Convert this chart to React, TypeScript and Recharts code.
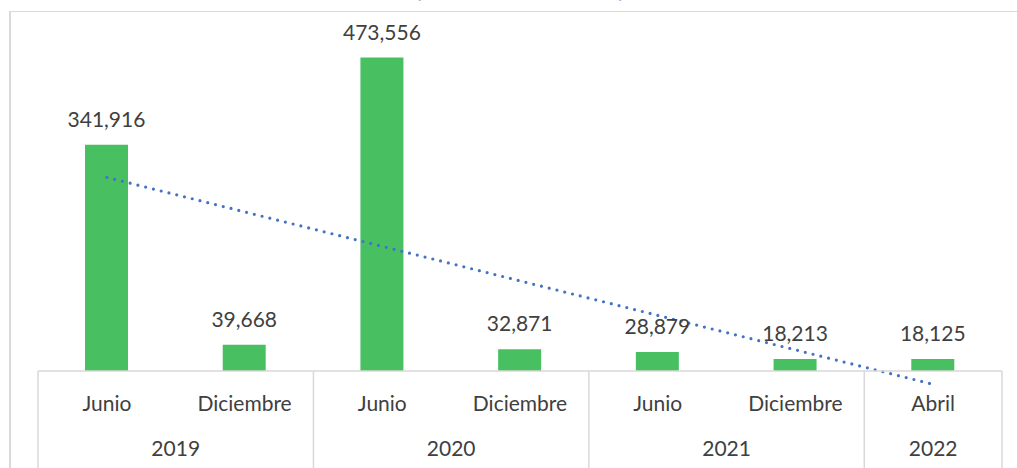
import React from "react";
import {
  ComposedChart,
  Bar,
  XAxis,
  YAxis,
  LabelList,
  ReferenceLine,
} from "recharts";

const months = ["Junio", "Diciembre", "Junio", "Diciembre", "Junio", "Diciembre", "Abril"];
const years = ["2019", "2019", "2020", "2020", "2021", "2021", "2022"];
const values = [341916, 39668, 473556, 32871, 28879, 18213, 18125];

const WIDTH = 1017;
const HEIGHT = 480;
const MARGIN = { top: 40, right: 15, bottom: 0, left: 38 };
const GRID = "#D9D9D9";
const TEXT = "#404040";

const data = values.map((v, i) => ({
  key: `${months[i]} ${years[i]}`,
  month: months[i],
  year: years[i],
  value: v,
}));

// linear trend (least squares) over the category index, like Excel's trendline
const n = values.length;
const xMean = (n + 1) / 2;
const yMean = values.reduce((a, b) => a + b, 0) / n;
let sxy = 0;
let sxx = 0;
values.forEach((v, i) => {
  sxy += (i + 1 - xMean) * (v - yMean);
  sxx += (i + 1 - xMean) * (i + 1 - xMean);
});
const slope = sxy / sxx;
const trendAt = (x: number) => yMean + slope * (x - xMean);

const band = (WIDTH - MARGIN.left - MARGIN.right) / data.length;

const CategoryTick = (props: any) => {
  const { x, y, index } = props;
  const item = data[index];
  if (!item) return null;
  const left = x - band / 2;
  const isFirst = index === 0 || years[index - 1] !== item.year;
  const isLast = index === data.length - 1;
  let groupSize = 0;
  if (isFirst) {
    for (let j = index; j < years.length && years[j] === item.year; j++) groupSize++;
  }
  return (
    <g>
      <text x={x} y={y + 40} textAnchor="middle" fill={TEXT} fontSize={21}>
        {item.month}
      </text>
      {isFirst && (
        <>
          <line x1={left} y1={y} x2={left} y2={y + 120} stroke={GRID} strokeWidth={1.5} />
          <text
            x={left + (groupSize * band) / 2}
            y={y + 85}
            textAnchor="middle"
            fill={TEXT}
            fontSize={21}
          >
            {item.year}
          </text>
        </>
      )}
      {isLast && (
        <line x1={x + band / 2} y1={y} x2={x + band / 2} y2={y + 120} stroke={GRID} strokeWidth={1.5} />
      )}
    </g>
  );
};

export default function App() {
  return (
    <div
      style={{
        position: "absolute",
        left: 0,
        top: 0,
        width: WIDTH,
        height: 468,
        overflow: "hidden",
        background: "#fff",
        fontFamily: "Lato, 'Open Sans', sans-serif",
      }}
    >
      <div
        style={{
          position: "absolute",
          left: 9,
          top: 11,
          width: 1030,
          height: 480,
          borderLeft: `2px solid ${GRID}`,
          borderTop: `1.5px solid ${GRID}`,
        }}
      />
      <div
        style={{
          position: "absolute",
          left: 0,
          width: 1040,
          top: -22,
          textAlign: "center",
          fontSize: 20,
          color: "#44546A",
        }}
      >
        (Número de atenciones)
      </div>
      <div style={{ position: "absolute", left: 0, top: 0 }}>
        <ComposedChart width={WIDTH} height={HEIGHT} data={data} margin={MARGIN}>
          <XAxis
            dataKey="key"
            interval={0}
            height={HEIGHT - 371}
            tickSize={0}
            tickMargin={0}
            tickLine={false}
            axisLine={{ stroke: GRID, strokeWidth: 1.5 }}
            tick={<CategoryTick />}
          />
          <YAxis hide domain={[0, 500000]} />
          <Bar dataKey="value" fill="#48C062" barSize={43} isAnimationActive={false}>
            <LabelList
              dataKey="value"
              position="top"
              offset={18}
              fill={TEXT}
              fontSize={21}
              formatter={(v: any) => Number(v).toLocaleString("en-US")}
            />
          </Bar>
          <ReferenceLine
            segment={[
              { x: data[0].key, y: trendAt(1) },
              { x: data[n - 1].key, y: trendAt(n) },
            ]}
            ifOverflow="visible"
            stroke="#4472C4"
            strokeWidth={3.2}
            strokeDasharray="0 8"
            strokeLinecap="round"
          />
        </ComposedChart>
      </div>
    </div>
  );
}
